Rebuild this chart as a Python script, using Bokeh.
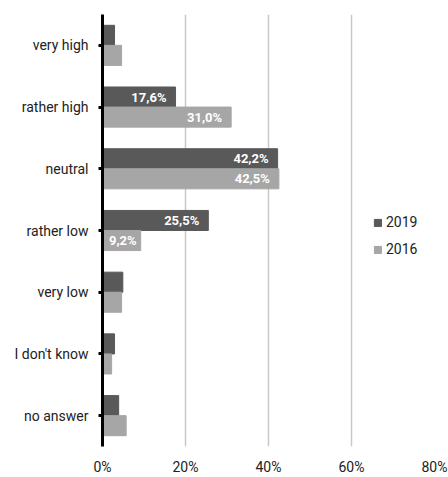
from bokeh.plotting import figure
from bokeh.models import ColumnDataSource, FactorRange, Legend, LegendItem, FixedTicker, CustomJSTickFormatter
from bokeh.transform import dodge
from bokeh.core.properties import value
from bokeh.embed import file_html
from bokeh.resources import INLINE

categories = ["very high", "rather high", "neutral", "rather low", "very low", "I don't know", "no answer"]
values_2019 = [2.9, 17.6, 42.2, 25.5, 4.9, 2.9, 3.9]
values_2016 = [4.6, 31.0, 42.5, 9.2, 4.6, 2.2, 5.7]
x_ticks = [0, 20, 40, 60, 80]
label_threshold = 9

FONT = "Roboto"
C2019 = "#595959"
C2016 = "#a6a6a6"
TXT = "#222222"

factors = list(reversed(categories))

def fmt(v):
    return ("%.1f" % v).replace(".", ",") + "%"

src = ColumnDataSource(dict(cat=categories, v19=values_2019, v16=values_2016))

p = figure(width=448, height=477, y_range=FactorRange(*factors), x_range=(0, 80),
           output_backend="svg", toolbar_location=None,
           min_border_left=102, min_border_right=14, min_border_top=14, min_border_bottom=31)
p.outline_line_color = None
p.background_fill_color = "white"

r19 = p.hbar(y=dodge("cat", 0.1625, range=p.y_range), right="v19", left=0, height=0.325,
             source=src, fill_color=C2019, line_color=C2019)
r16 = p.hbar(y=dodge("cat", -0.1625, range=p.y_range), right="v16", left=0, height=0.325,
             source=src, fill_color=C2016, line_color=C2016)

# data labels inside the bars
for vals, off in ((values_2019, 0.1625), (values_2016, -0.1625)):
    cats = [c for c, v in zip(categories, vals) if v >= label_threshold]
    vs = [v for v in vals if v >= label_threshold]
    offs = [-9 if v > 12 else -4 for v in vs]
    ls = ColumnDataSource(dict(cat=cats, x=vs, t=[fmt(v) for v in vs], xo=offs))
    p.text(x="x", y=dodge("cat", off, range=p.y_range), text="t", source=ls,
           x_offset="xo", text_align="right", text_baseline="middle",
           text_color="white", text_font=value(FONT), text_font_style="bold",
           text_font_size="13px")

# grid
p.ygrid.grid_line_color = None
p.xgrid.ticker = FixedTicker(ticks=[20, 40, 60, 80])
p.xgrid.grid_line_color = "#c8c8c8"
p.xgrid.grid_line_width = 1.5

# x axis
p.xaxis.ticker = FixedTicker(ticks=x_ticks)
p.xaxis.formatter = CustomJSTickFormatter(code="return tick + '%';")
p.xaxis.axis_line_color = None
p.xaxis.major_tick_line_color = None
p.xaxis.minor_tick_line_color = None
p.xaxis.major_tick_out = 0
p.xaxis.major_tick_in = 0
p.xaxis.major_label_standoff = 12
p.xaxis.major_label_text_font = FONT
p.xaxis.major_label_text_font_size = "14px"
p.xaxis.major_label_text_color = TXT

# y axis
p.yaxis.axis_line_color = "black"
p.yaxis.axis_line_width = 3
p.yaxis.major_tick_line_color = "black"
p.yaxis.major_tick_line_width = 3
p.yaxis.major_tick_out = 4
p.yaxis.major_tick_in = 0
p.yaxis.major_label_standoff = 10
p.yaxis.major_label_text_font = FONT
p.yaxis.major_label_text_font_size = "14px"
p.yaxis.major_label_text_color = TXT

legend = Legend(items=[LegendItem(label="2019", renderers=[r19]),
                       LegendItem(label="2016", renderers=[r16])],
                location=(271, 187), padding=0, margin=0, spacing=7,
                glyph_width=9, glyph_height=9, label_height=20, label_standoff=4,
                border_line_color=None, background_fill_alpha=0,
                label_text_font=FONT, label_text_font_size="14px", label_text_color=TXT)
p.add_layout(legend)

open("out.html", "w").write(file_html(p, INLINE))
